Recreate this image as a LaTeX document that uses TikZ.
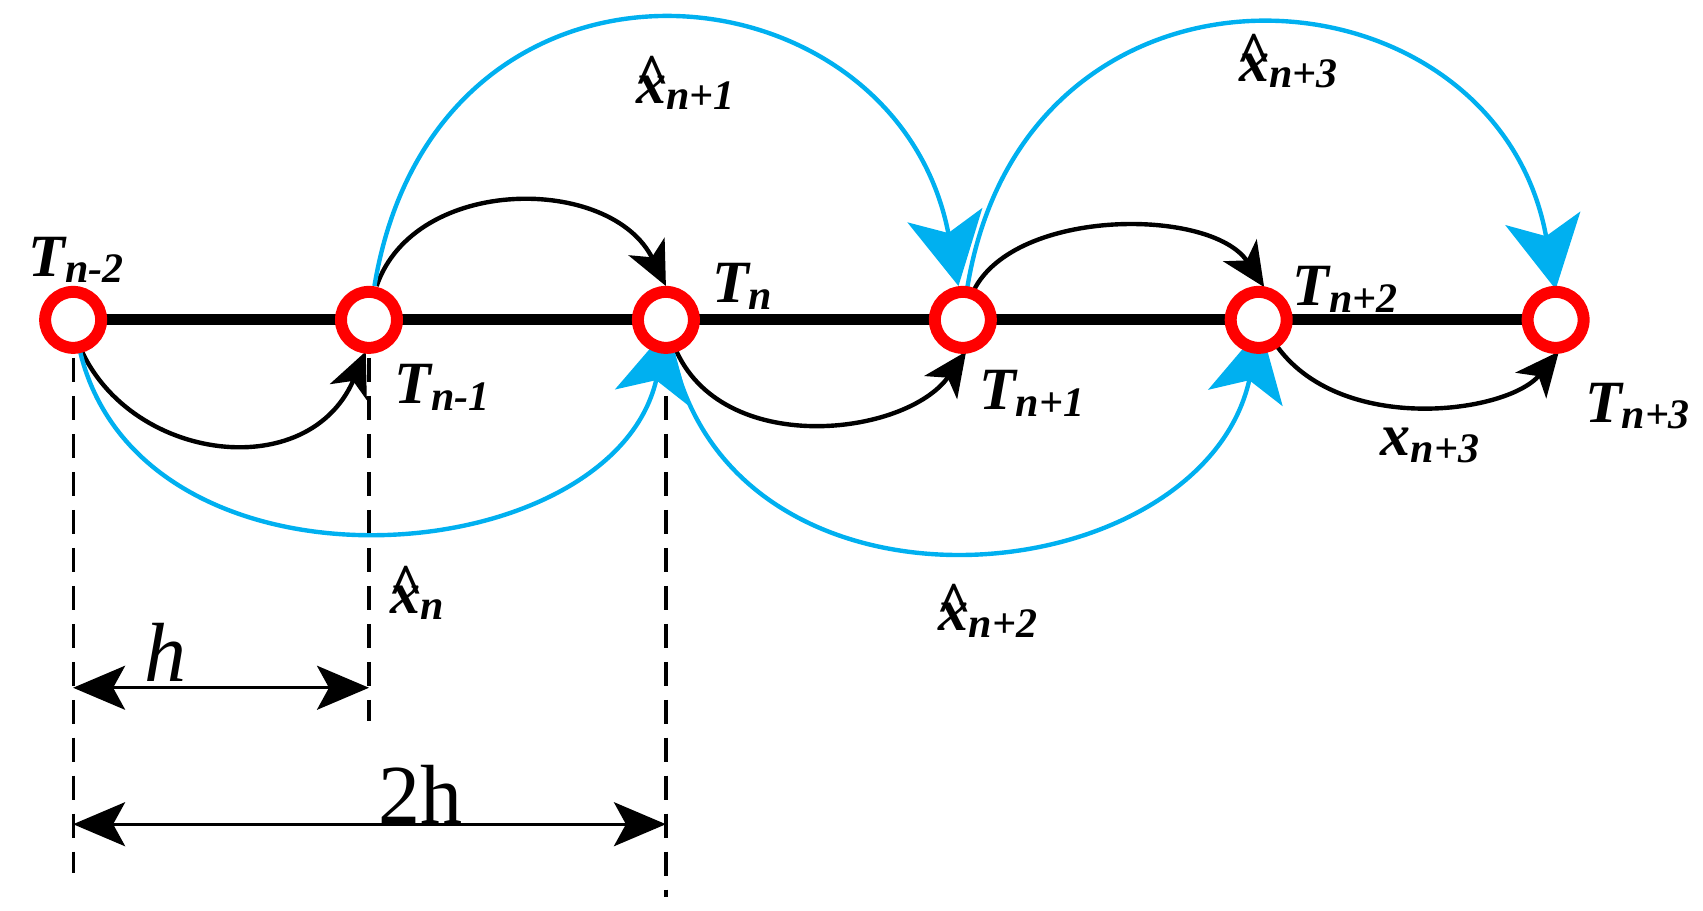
\documentclass[tikz,border=0pt]{standalone}
\usepackage{fontspec}
\setmainfont{Liberation Serif}
\usetikzlibrary{arrows.meta}
\newcommand{\lbl}[2]{{\fontsize{30}{30}\selectfont\bfseries\itshape #1}{\fontsize{21}{21}\selectfont\bfseries\itshape\raisebox{-0.35ex}{#2}}}
\newcommand{\hlbl}[2]{{\fontsize{30}{30}\selectfont\bfseries\itshape\ooalign{#1\cr\hidewidth\raisebox{0.12em}{\^{}}\hidewidth}}{\fontsize{21}{21}\selectfont\bfseries\itshape\raisebox{-0.35ex}{#2}}}
\begin{document}
\begin{tikzpicture}[x=0.546pt,y=-0.546pt,
  blk/.style={black,line width=2.2pt,-{Stealth[length=22pt,width=20pt,inset=6pt]}},
  blu/.style={color={rgb,255:red,0;green,176;blue,240},line width=2.2pt,-{Stealth[length=36pt,width=38pt,inset=9pt]}},
  ring/.style={circle,draw=red,line width=6pt,fill=white,minimum size=28pt,inner sep=0pt},
  dashln/.style={black,line width=1.6pt,dash pattern=on 12pt off 7pt},
  dim/.style={black,line width=1.6pt,{Stealth[length=26pt,width=22pt,inset=6pt]}-{Stealth[length=26pt,width=22pt,inset=6pt]}},
  lab/.style={inner sep=0pt}]
\useasboundingbox (0,0) rectangle (1560,834);
\coordinate (a) at (67,293);
\coordinate (b) at (338,293);
\coordinate (c) at (610,293);
\coordinate (d) at (882,293);
\coordinate (e) at (1153,293);
\coordinate (f) at (1425,293);
\draw[line width=5.5pt] (a) -- (f);
% dashed
\coordinate (a1) at (67,800); \coordinate (b1) at (338,660); \coordinate (c1) at (610,822);
\draw[dashln] (a) -- (a1);
\draw[dashln] (b) -- (b1);
\draw[dashln] (c) -- (c1);
% dims
\coordinate (hA) at (67,630); \coordinate (hB) at (338,630);
\coordinate (tA) at (67,755); \coordinate (tB) at (610,755);
\draw[dim] (hA) -- (hB);
\draw[dim] (tA) -- (tB);
\node[lab,font=\fontsize{42}{42}\selectfont\itshape] (hl) at (152,598) {h};
\node[lab,font=\fontsize{42}{42}\selectfont] (tl) at (385,728) {2h};
% black arcs
\draw[blk] (67,300) .. controls (100,420) and (280,450) .. (335,322);
\draw[blk] (345,262) .. controls (380,160) and (560,160) .. (610,262);
\draw[blk] (618,318) .. controls (660,420) and (830,400) .. (885,322);
\draw[blk] (892,266) .. controls (930,190) and (1110,190) .. (1158,263);
\draw[blk] (1165,310) .. controls (1220,400) and (1380,380) .. (1428,322);
% blue arcs
\draw[blu] (70,305) .. controls (110,560) and (560,530) .. (612,300);
\draw[blu] (343,262) .. controls (400,-80) and (820,-40) .. (878,262);
\draw[blu] (612,300) .. controls (650,590) and (1100,550) .. (1155,300);
\draw[blu] (886,264) .. controls (940,-70) and (1370,-40) .. (1425,265);
% rings
\foreach \n in {a,b,c,d,e,f} \node[ring] at (\n) {};
% labels
\node[lab] (l1) at (70,238) {\lbl{T}{n-2}};
\node[lab] (l2) at (405,355) {\lbl{T}{n-1}};
\node[lab] (l3) at (680,262) {\lbl{T}{n}};
\node[lab] (l4) at (945,360) {\lbl{T}{n+1}};
\node[lab] (l5) at (1232,265) {\lbl{T}{n+2}};
\node[lab] (l6) at (1500,372) {\lbl{T}{n+3}};
\node[lab] (l7) at (1310,408) {\lbl{x}{n+3}};
\node[lab] (l8) at (382,552) {\hlbl{x}{n}};
\node[lab] (l9) at (628,85) {\hlbl{x}{n+1}};
\node[lab] (l10) at (905,568) {\hlbl{x}{n+2}};
\node[lab] (l11) at (1180,65) {\hlbl{x}{n+3}};
\end{tikzpicture}
\end{document}
